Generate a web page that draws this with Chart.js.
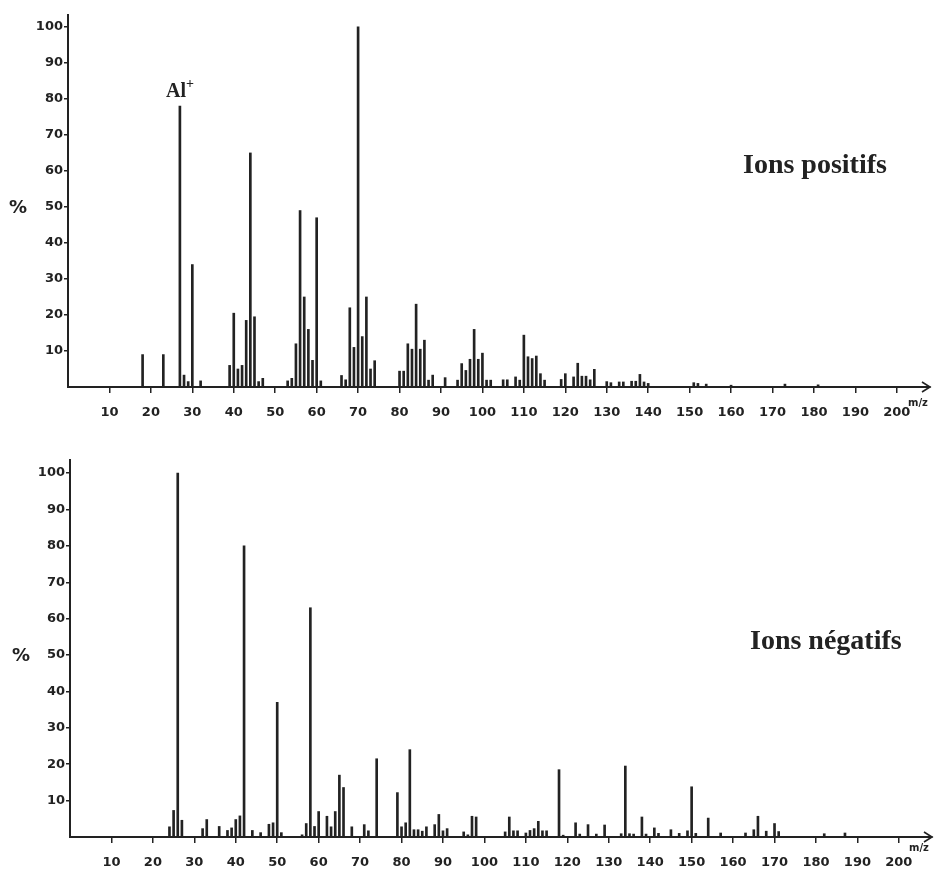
<!DOCTYPE html>
<html>
<head>
<meta charset="utf-8">
<script src="https://cdn.jsdelivr.net/npm/chart.js@4.4.1/dist/chart.umd.min.js"></script>
<style>
  body { margin: 0; background: #fff; width: 937px; height: 870px; position: relative; overflow: hidden; }
  .panel { position: absolute; left: 0; }
  .lbl { position: absolute; color: #222; white-space: nowrap; line-height: 1; }
  .serif { font-family: "Liberation Serif", "Times New Roman", serif; font-weight: bold; }
  .sans { font-family: "DejaVu Sans", sans-serif; font-weight: bold; }
</style>
</head>
<body>
<div class="panel" style="top:0"><canvas id="posChart" width="937" height="430"></canvas></div>
<div class="panel" style="top:430px"><canvas id="negChart" width="937" height="440"></canvas></div>

<div class="lbl serif" style="left:166px;top:80px;font-size:20px">Al<span style="font-size:14px;position:relative;top:-9px">+</span></div>
<div class="lbl serif" style="left:743px;top:150px;font-size:28px">Ions positifs</div>
<div class="lbl serif" style="left:750px;top:626px;font-size:28px">Ions négatifs</div>
<div class="lbl sans" style="left:9px;top:198px;font-size:18px">%</div>
<div class="lbl sans" style="left:12px;top:646px;font-size:18px">%</div>
<div class="lbl sans" style="left:908px;top:398px;font-size:10px">m/z</div>
<div class="lbl sans" style="left:909px;top:843px;font-size:10px">m/z</div>

<script>
// spectre ions positifs (m/z, %)
const posMz = [
  18, 23, 27, 28, 29, 30, 32,
  39, 40, 41, 42, 43, 44, 45, 46, 47,
  53, 54, 55, 56, 57, 58, 59, 60, 61,
  66, 67, 68, 69, 70, 71, 72, 73, 74,
  80, 81, 82, 83, 84, 85, 86, 87, 88,
  91, 94, 95, 96, 97, 98, 99, 100, 101, 102,
  105, 106, 108, 109, 110, 111, 112, 113, 114, 115,
  119, 120, 122, 123, 124, 125, 126, 127,
  130, 131, 133, 134, 136, 137, 138, 139, 140,
  151, 152, 154, 160, 173, 181
];
const posPct = [
  9, 9, 78, 3.3, 1.5, 34, 1.7,
  6, 20.5, 5, 6, 18.5, 65, 19.5, 1.5, 2.4,
  1.7, 2.4, 12, 49, 25, 16, 7.4, 47, 1.7,
  3.2, 2, 22, 11, 100, 14, 25, 5, 7.3,
  4.4, 4.4, 12, 10.5, 23, 10.5, 13, 1.9, 3.3,
  2.6, 1.9, 6.5, 4.6, 7.7, 16, 7.7, 9.4, 1.9, 1.9,
  2, 2, 2.8, 1.9, 14.4, 8.4, 7.9, 8.6, 3.7, 1.9,
  2.1, 3.7, 2.8, 6.6, 3, 3, 2, 4.9,
  1.5, 1.2, 1.4, 1.4, 1.6, 1.6, 3.5, 1.4, 1,
  1.2, 1, 0.8, 0.5, 0.8, 0.6
];

// spectre ions negatifs (m/z, %)
const negMz = [
  24, 25, 26, 27, 32, 33, 36, 38, 39, 40, 41, 42, 44, 46, 48, 49, 50, 51,
  56, 57, 58, 59, 60, 62, 63, 64, 65, 66, 68, 71, 72, 74,
  79, 80, 81, 82, 83, 84, 85, 86, 88, 89, 90, 91, 95, 96, 97, 98,
  105, 106, 107, 108, 110, 111, 112, 113, 114, 115, 118, 119, 122, 123, 125, 127, 129,
  133, 134, 135, 136, 138, 139, 141, 142, 145, 147, 149, 150, 151, 154, 157,
  163, 165, 166, 168, 170, 171, 182, 187
];
const negPct = [
  2.8, 7.3, 100, 4.6, 2.3, 4.8, 2.9, 1.8, 2.5, 4.8, 5.8, 80, 1.8, 1.2, 3.5, 3.9, 37, 1.2,
  0.6, 3.7, 63, 2.9, 7, 5.7, 2.8, 7, 17, 13.6, 2.8, 3.4, 1.7, 21.5,
  12.2, 2.8, 3.9, 24, 2, 2, 1.6, 2.8, 3.4, 6.2, 1.7, 2.3, 1.4, 0.6, 5.7, 5.5,
  1.4, 5.5, 1.7, 1.7, 1.1, 1.8, 2.3, 4.3, 1.7, 1.7, 18.5, 0.5, 3.9, 0.8, 3.4, 0.8, 3.3,
  0.9, 19.5, 0.9, 0.8, 5.5, 0.8, 2.5, 1, 2, 1, 1.7, 13.8, 1, 5.2, 1.1,
  1.1, 2, 5.7, 1.6, 3.7, 1.5, 0.9, 1.1
];

const xTicks = [10, 20, 30, 40, 50, 60, 70, 80, 90, 100, 110, 120, 130, 140, 150, 160, 170, 180, 190, 200];
const yTicks = [10, 20, 30, 40, 50, 60, 70, 80, 90, 100];

const ink = "#222";
const tickFont = { family: "DejaVu Sans", weight: "bold", size: 13 };

// fleche au bout de l'axe m/z
const axisArrow = {
  id: "axisArrow",
  afterDraw(chart) {
    const { ctx, chartArea: a } = chart;
    ctx.save();
    ctx.strokeStyle = ink;
    ctx.lineWidth = 1.6;
    ctx.beginPath();
    ctx.moveTo(a.right - 8, a.bottom - 5);
    ctx.lineTo(a.right, a.bottom);
    ctx.lineTo(a.right - 8, a.bottom + 5);
    ctx.stroke();
    ctx.restore();
  },
};

function makePanel(id, mz, pct, o) {
  return new Chart(document.getElementById(id), {
    type: "bar",
    data: {
      datasets: [
        {
          data: mz.map((m, i) => ({ x: m, y: pct[i] })),
          backgroundColor: ink,
          borderWidth: 0,
          barThickness: 2,
        },
      ],
    },
    options: {
      responsive: false,
      animation: false,
      layout: { padding: { top: o.padTop, right: o.padRight, left: 0, bottom: 0 } },
      plugins: { legend: { display: false }, tooltip: { enabled: false } },
      scales: {
        x: {
          type: "linear",
          min: 0,
          max: o.xMax,
          offset: false,
          afterBuildTicks: (s) => { s.ticks = xTicks.map((v) => ({ value: v })); },
          afterFit: (s) => { s.height = o.xHeight; },
          grid: { offset: false, drawOnChartArea: false, tickLength: 6, color: ink, lineWidth: 1.5 },
          border: { color: ink, width: 2 },
          ticks: { color: ink, font: tickFont, padding: 12, maxRotation: 0, autoSkip: false },
        },
        y: {
          min: 0,
          max: o.yMax,
          afterBuildTicks: (s) => { s.ticks = yTicks.map((v) => ({ value: v })); },
          afterFit: (s) => { s.width = o.yWidth; },
          grid: { drawOnChartArea: false, tickLength: 4, color: ink, lineWidth: 1.5 },
          border: { color: ink, width: 2 },
          ticks: { color: ink, font: tickFont, padding: 1 },
        },
      },
    },
    plugins: [axisArrow],
  });
}

makePanel("posChart", posMz, posPct, { xMax: 208, yMax: 103.3, yWidth: 68, xHeight: 43, padTop: 15, padRight: 7 });
makePanel("negChart", negMz, negPct, { xMax: 208, yMax: 103.6, yWidth: 70, xHeight: 33, padTop: 30, padRight: 5 });
</script>
</body>
</html>
